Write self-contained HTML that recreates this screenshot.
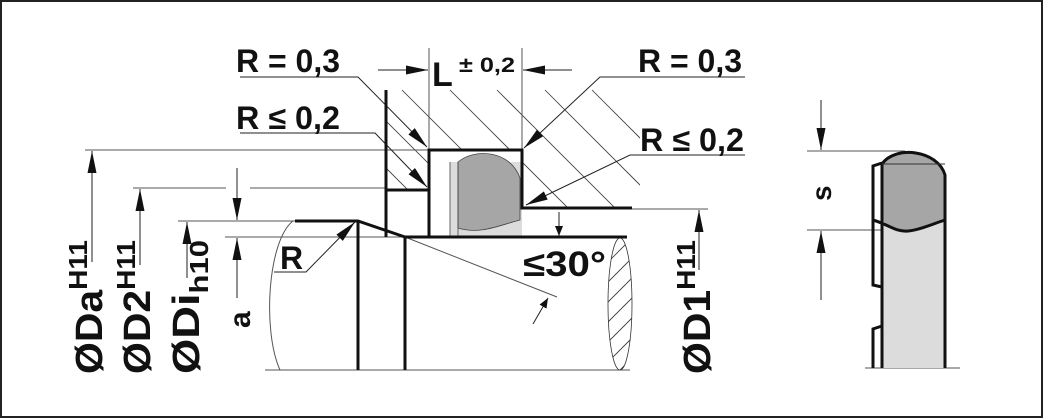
<!DOCTYPE html>
<html><head><meta charset="utf-8"><style>
html,body{margin:0;padding:0;background:#fff;}
svg{display:block;}
text{font-family:"Liberation Sans",Arial,sans-serif;font-weight:bold;fill:#111;}
</style></head><body>
<svg width="1043" height="418" viewBox="0 0 1043 418" xmlns="http://www.w3.org/2000/svg">
<defs>
<marker id="ar" markerWidth="10" markerHeight="8" refX="10" refY="4" orient="auto" markerUnits="userSpaceOnUse">
<path d="M0,0 L10,4 L0,8 Z" fill="#111"/></marker>
<marker id="ab" markerWidth="22" markerHeight="9" refX="22" refY="4.5" orient="auto" markerUnits="userSpaceOnUse">
<path d="M0,0 L22,4.5 L0,9 Z" fill="#111"/></marker>
<clipPath id="hc"><polygon points="386,88 640,88 640,208 522,208 522,150 429,150 429,190 386,190"/></clipPath>
<clipPath id="ec"><ellipse cx="620" cy="304" rx="12" ry="66"/></clipPath>
</defs>
<rect x="1" y="1" width="1041" height="416" fill="#fff" stroke="#222" stroke-width="2"/>

<g clip-path="url(#hc)" stroke="#333" stroke-width="0.8">
<line x1="402" y1="90" x2="522" y2="210"/>
<line x1="450" y1="90" x2="570" y2="210"/>
<line x1="497" y1="90" x2="617" y2="210"/>
<line x1="545" y1="90" x2="665" y2="210"/>
<line x1="592" y1="90" x2="712" y2="210"/>
<line x1="355" y1="90" x2="475" y2="210"/>
<line x1="308" y1="90" x2="428" y2="210"/>
</g>

<g stroke="#555" stroke-width="1" fill="none">
<line x1="85" y1="150" x2="429" y2="150"/>
<line x1="133" y1="188" x2="226" y2="188"/>
<line x1="250" y1="188" x2="386" y2="188"/>
<line x1="178" y1="221" x2="295" y2="221"/>
<line x1="225" y1="237" x2="405" y2="237"/>
<line x1="632" y1="209" x2="708" y2="209"/>
<line x1="265" y1="370" x2="630" y2="370"/>
<line x1="429" y1="48" x2="429" y2="150"/>
<line x1="522" y1="48" x2="522" y2="150"/>
<path d="M293,221 C268,240 262,330 280,370"/>
<line x1="405" y1="237" x2="557" y2="297"/>
<line x1="807" y1="151" x2="905" y2="151"/>
<line x1="807" y1="230" x2="890" y2="230"/>
<line x1="865" y1="368" x2="960" y2="368"/>
</g>
<g stroke="#333" stroke-width="0.8" fill="none">
<ellipse cx="620" cy="304" rx="12" ry="66"/>
<g clip-path="url(#ec)">
<line x1="600" y1="270" x2="640" y2="230"/><line x1="600" y1="290" x2="640" y2="250"/>
<line x1="600" y1="310" x2="640" y2="270"/><line x1="600" y1="330" x2="640" y2="290"/>
<line x1="600" y1="350" x2="640" y2="310"/><line x1="600" y1="370" x2="640" y2="330"/>
<line x1="600" y1="390" x2="640" y2="350"/>
</g></g>

<g stroke="#222" stroke-width="1" fill="none">
<line x1="92" y1="262" x2="92" y2="151" marker-end="url(#ab)"/>
<line x1="140" y1="265" x2="140" y2="189" marker-end="url(#ab)"/>
<line x1="187" y1="278" x2="187" y2="222" marker-end="url(#ab)"/>
<line x1="237" y1="168" x2="237" y2="220" marker-end="url(#ab)"/>
<line x1="237" y1="298" x2="237" y2="238" marker-end="url(#ab)"/>
<line x1="699" y1="270" x2="699" y2="210" marker-end="url(#ab)"/>
<line x1="378" y1="70" x2="428" y2="70" marker-end="url(#ab)"/>
<line x1="572" y1="70" x2="523" y2="70" marker-end="url(#ab)"/>
<line x1="559" y1="212" x2="559" y2="236" marker-end="url(#ar)"/>
<line x1="533" y1="324" x2="548" y2="298" marker-end="url(#ar)"/>
<line x1="821" y1="100" x2="821" y2="150" marker-end="url(#ab)"/>
<line x1="821" y1="300" x2="821" y2="231" marker-end="url(#ab)"/>
<polyline points="240,77 358,77 427,147" marker-end="url(#ab)"/>
<polyline points="240,133 375,133 427,187" marker-end="url(#ab)"/>
<polyline points="745,77 600,77 524,148" marker-end="url(#ab)"/>
<polyline points="745,155 630,155 526,205" marker-end="url(#ab)"/>
<polyline points="274,272 306,272 355,222" marker-end="url(#ab)"/>
</g>

<rect x="450" y="162" width="72" height="75" fill="#dcdcdc"/>
<path d="M458,162 C475,148 510,150 520,178 L520,220 C500,225 480,235 458,228 Z" fill="#a6a6a6" stroke="#444" stroke-width="0.8"/>
<line x1="450" y1="162" x2="450" y2="237" stroke="#444" stroke-width="0.8"/>
<line x1="458" y1="162" x2="458" y2="237" stroke="#444" stroke-width="0.8"/>

<g stroke="#111" stroke-width="3" fill="none">
<polyline points="429,237 429,150 522,150 522,208 632,208"/>
<polyline points="386,90 386,190 429,190"/>
<line x1="386" y1="190" x2="386" y2="237"/>
<line x1="405" y1="237" x2="627" y2="237"/>
<polyline points="295,221 358,221 405,237"/>
<line x1="358" y1="221" x2="358" y2="370"/>
<line x1="405" y1="237" x2="405" y2="370"/>
</g>

<path d="M882,164 L882,368 L945,368 L945,175 C938,150 895,145 882,164 Z" fill="#dcdcdc"/>
<path d="M882,164 C895,145 938,150 945,175 L945,220 C925,225 915,235 900,230 C890,228 885,222 882,220 Z" fill="#a6a6a6"/>
<g stroke="#111" stroke-width="3" fill="none">
<path d="M882,368 L882,164 C895,145 938,150 945,175 L945,368"/>
<path d="M873,220 C890,225 895,232 908,231 C920,230 935,223 945,220"/>
<polyline points="882,163 873,166 873,285 882,287"/>
<polyline points="882,326 873,329 873,368"/>
</g>
<line x1="882" y1="164" x2="945" y2="164" stroke="#333" stroke-width="1"/>

<g font-size="32">
<text x="236" y="72" textLength="104" lengthAdjust="spacingAndGlyphs">R = 0,3</text>
<text x="236" y="129" textLength="104" lengthAdjust="spacingAndGlyphs">R ≤ 0,2</text>
<text x="638" y="72" textLength="104" lengthAdjust="spacingAndGlyphs">R = 0,3</text>
<text x="640" y="151" textLength="104" lengthAdjust="spacingAndGlyphs">R ≤ 0,2</text>
</g>
<text x="432" y="86" font-size="34">L</text>
<text x="459" y="72" font-size="21" textLength="56" lengthAdjust="spacingAndGlyphs">± 0,2</text>
<text x="280" y="269" font-size="32">R</text>
<text x="523" y="276" font-size="35" textLength="83" lengthAdjust="spacingAndGlyphs">≤30°</text>
<g font-size="38">
<text transform="translate(102,374) rotate(-90)" textLength="134" lengthAdjust="spacingAndGlyphs">ØDa<tspan font-size="26" dy="-15">H11</tspan></text>
<text transform="translate(150,374) rotate(-90)" textLength="134" lengthAdjust="spacingAndGlyphs">ØD2<tspan font-size="26" dy="-15">H11</tspan></text>
<text transform="translate(199,374) rotate(-90)" textLength="134" lengthAdjust="spacingAndGlyphs">ØDi<tspan font-size="26" dy="9">h10</tspan></text>
<text transform="translate(710,374) rotate(-90)" textLength="134" lengthAdjust="spacingAndGlyphs">ØD1<tspan font-size="26" dy="-15">H11</tspan></text>
</g>
<text transform="translate(250,328) rotate(-90)" font-size="30">a</text>
<text transform="translate(831,201) rotate(-90)" font-size="28">s</text>
</svg>
</body></html>
